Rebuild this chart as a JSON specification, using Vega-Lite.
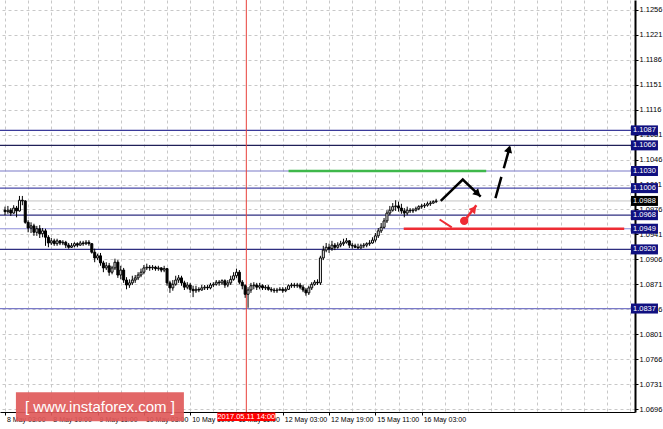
{
"$schema":"https://vega.github.io/schema/vega-lite/v6.json",
"width":635,"height":412,
"autosize":{"type":"none"},
"padding":{"left":0,"top":0,"right":28,"bottom":17},
"background":"white",
"config":{"view":{"stroke":null},"font":"Liberation Sans",
 "axis":{"title":null,"labelOverlap":false,"labelBound":false,"labelFlush":false,"grid":true,"gridColor":"#c8c8c8","gridDash":[3,3],"gridWidth":1,
  "labelFont":"Liberation Sans","labelColor":"black","tickColor":"black","domainColor":"black","tickSize":3,"tickCount":100},
 "axisX":{"labelFontSize":7,"domainWidth":1,"labelPadding":0},
 "axisY":{"labelFontSize":7.5,"domainWidth":2,"labelPadding":1}},
"datasets":{
"candles":[
{"i":0,"o":1.0975,"h":1.098,"l":1.0968,"c":1.0973},
{"i":1,"o":1.0973,"h":1.0981,"l":1.097,"c":1.0975},
{"i":2,"o":1.0975,"h":1.0978,"l":1.0967,"c":1.0971},
{"i":3,"o":1.0971,"h":1.0982,"l":1.097,"c":1.0978},
{"i":4,"o":1.0978,"h":1.0981,"l":1.0965,"c":1.0974},
{"i":5,"o":1.0974,"h":1.0995,"l":1.0973,"c":1.0989},
{"i":6,"o":1.0989,"h":1.0995,"l":1.0982,"c":1.0988},
{"i":7,"o":1.0988,"h":1.0989,"l":1.0956,"c":1.0958},
{"i":8,"o":1.0958,"h":1.0961,"l":1.0944,"c":1.095},
{"i":9,"o":1.095,"h":1.0958,"l":1.0943,"c":1.0953},
{"i":10,"o":1.0953,"h":1.0956,"l":1.0939,"c":1.0944},
{"i":11,"o":1.0944,"h":1.0953,"l":1.0939,"c":1.0949},
{"i":12,"o":1.0949,"h":1.0954,"l":1.0936,"c":1.0942},
{"i":13,"o":1.0942,"h":1.095,"l":1.0937,"c":1.0946},
{"i":14,"o":1.0946,"h":1.0949,"l":1.0925,"c":1.0937},
{"i":15,"o":1.0937,"h":1.094,"l":1.0923,"c":1.0929},
{"i":16,"o":1.0929,"h":1.0936,"l":1.0926,"c":1.0932},
{"i":17,"o":1.0932,"h":1.0935,"l":1.0925,"c":1.0928},
{"i":18,"o":1.0928,"h":1.0935,"l":1.0925,"c":1.0932},
{"i":19,"o":1.0932,"h":1.0933,"l":1.0926,"c":1.0929},
{"i":20,"o":1.0929,"h":1.0933,"l":1.0926,"c":1.093},
{"i":21,"o":1.093,"h":1.0932,"l":1.0922,"c":1.0926},
{"i":22,"o":1.0926,"h":1.0929,"l":1.0921,"c":1.0923},
{"i":23,"o":1.0923,"h":1.0929,"l":1.0922,"c":1.0925},
{"i":24,"o":1.0925,"h":1.093,"l":1.0923,"c":1.0928},
{"i":25,"o":1.0928,"h":1.093,"l":1.0923,"c":1.0926},
{"i":26,"o":1.0926,"h":1.0932,"l":1.0925,"c":1.0929},
{"i":27,"o":1.0929,"h":1.0932,"l":1.0925,"c":1.0928},
{"i":28,"o":1.0928,"h":1.0933,"l":1.0926,"c":1.093},
{"i":29,"o":1.093,"h":1.0933,"l":1.0925,"c":1.0928},
{"i":30,"o":1.0928,"h":1.0929,"l":1.0914,"c":1.0916},
{"i":31,"o":1.0916,"h":1.0921,"l":1.0902,"c":1.0908},
{"i":32,"o":1.0908,"h":1.0914,"l":1.0905,"c":1.0911},
{"i":33,"o":1.0911,"h":1.0915,"l":1.0897,"c":1.0901},
{"i":34,"o":1.0901,"h":1.0904,"l":1.0888,"c":1.0894},
{"i":35,"o":1.0894,"h":1.0902,"l":1.0891,"c":1.0897},
{"i":36,"o":1.0897,"h":1.0901,"l":1.0883,"c":1.0888},
{"i":37,"o":1.0888,"h":1.0897,"l":1.0885,"c":1.0894},
{"i":38,"o":1.0894,"h":1.0907,"l":1.0891,"c":1.0902},
{"i":39,"o":1.0902,"h":1.0905,"l":1.088,"c":1.0884},
{"i":40,"o":1.0884,"h":1.0897,"l":1.0878,"c":1.0891},
{"i":41,"o":1.0891,"h":1.0894,"l":1.0873,"c":1.0877},
{"i":42,"o":1.0877,"h":1.0881,"l":1.0864,"c":1.087},
{"i":43,"o":1.087,"h":1.0878,"l":1.0866,"c":1.0873},
{"i":44,"o":1.0873,"h":1.0883,"l":1.087,"c":1.0877},
{"i":45,"o":1.0877,"h":1.0884,"l":1.0873,"c":1.088},
{"i":46,"o":1.088,"h":1.0888,"l":1.0877,"c":1.0884},
{"i":47,"o":1.0884,"h":1.0893,"l":1.0881,"c":1.0888},
{"i":48,"o":1.0888,"h":1.0898,"l":1.0885,"c":1.0894},
{"i":49,"o":1.0894,"h":1.09,"l":1.0891,"c":1.0895},
{"i":50,"o":1.0895,"h":1.0898,"l":1.089,"c":1.0894},
{"i":51,"o":1.0894,"h":1.0898,"l":1.0891,"c":1.0895},
{"i":52,"o":1.0895,"h":1.0897,"l":1.089,"c":1.0893},
{"i":53,"o":1.0893,"h":1.0897,"l":1.089,"c":1.0894},
{"i":54,"o":1.0894,"h":1.0895,"l":1.0888,"c":1.0891},
{"i":55,"o":1.0891,"h":1.0897,"l":1.0888,"c":1.0893},
{"i":56,"o":1.0893,"h":1.0894,"l":1.0869,"c":1.0873},
{"i":57,"o":1.0873,"h":1.0876,"l":1.0859,"c":1.0866},
{"i":58,"o":1.0866,"h":1.0877,"l":1.0862,"c":1.0871},
{"i":59,"o":1.0871,"h":1.0883,"l":1.0869,"c":1.0877},
{"i":60,"o":1.0877,"h":1.0884,"l":1.0873,"c":1.088},
{"i":61,"o":1.088,"h":1.0883,"l":1.0869,"c":1.0873},
{"i":62,"o":1.0873,"h":1.0876,"l":1.0863,"c":1.0867},
{"i":63,"o":1.0867,"h":1.0874,"l":1.0864,"c":1.087},
{"i":64,"o":1.087,"h":1.0873,"l":1.0859,"c":1.0864},
{"i":65,"o":1.0864,"h":1.0869,"l":1.0853,"c":1.0862},
{"i":66,"o":1.0862,"h":1.0869,"l":1.0859,"c":1.0864},
{"i":67,"o":1.0864,"h":1.0867,"l":1.086,"c":1.0863},
{"i":68,"o":1.0863,"h":1.087,"l":1.0862,"c":1.0866},
{"i":69,"o":1.0866,"h":1.087,"l":1.0863,"c":1.0867},
{"i":70,"o":1.0867,"h":1.087,"l":1.0863,"c":1.0866},
{"i":71,"o":1.0866,"h":1.0873,"l":1.0864,"c":1.087},
{"i":72,"o":1.087,"h":1.0874,"l":1.0867,"c":1.0871},
{"i":73,"o":1.0871,"h":1.0877,"l":1.0869,"c":1.0874},
{"i":74,"o":1.0874,"h":1.0877,"l":1.0869,"c":1.0873},
{"i":75,"o":1.0873,"h":1.0878,"l":1.087,"c":1.0876},
{"i":76,"o":1.0876,"h":1.0878,"l":1.0866,"c":1.087},
{"i":77,"o":1.087,"h":1.0877,"l":1.0867,"c":1.0873},
{"i":78,"o":1.0873,"h":1.0883,"l":1.087,"c":1.0878},
{"i":79,"o":1.0878,"h":1.0888,"l":1.0876,"c":1.0883},
{"i":80,"o":1.0883,"h":1.0893,"l":1.088,"c":1.0888},
{"i":81,"o":1.0888,"h":1.0891,"l":1.0871,"c":1.0874},
{"i":82,"o":1.0874,"h":1.0877,"l":1.0864,"c":1.0869},
{"i":83,"o":1.0869,"h":1.0871,"l":1.0852,"c":1.0857},
{"i":84,"o":1.0857,"h":1.0867,"l":1.0838,"c":1.0863},
{"i":85,"o":1.0863,"h":1.0873,"l":1.0859,"c":1.0869},
{"i":86,"o":1.0869,"h":1.0874,"l":1.0864,"c":1.087},
{"i":87,"o":1.087,"h":1.0873,"l":1.0863,"c":1.0867},
{"i":88,"o":1.0867,"h":1.0873,"l":1.0864,"c":1.0869},
{"i":89,"o":1.0869,"h":1.0871,"l":1.0863,"c":1.0866},
{"i":90,"o":1.0866,"h":1.087,"l":1.0863,"c":1.0867},
{"i":91,"o":1.0867,"h":1.087,"l":1.0862,"c":1.0864},
{"i":92,"o":1.0864,"h":1.0867,"l":1.086,"c":1.0863},
{"i":93,"o":1.0863,"h":1.0866,"l":1.0859,"c":1.0862},
{"i":94,"o":1.0862,"h":1.0866,"l":1.0859,"c":1.0863},
{"i":95,"o":1.0863,"h":1.0867,"l":1.0862,"c":1.0864},
{"i":96,"o":1.0864,"h":1.0867,"l":1.0859,"c":1.0862},
{"i":97,"o":1.0862,"h":1.0867,"l":1.086,"c":1.0864},
{"i":98,"o":1.0864,"h":1.0871,"l":1.0863,"c":1.0869},
{"i":99,"o":1.0869,"h":1.0873,"l":1.0866,"c":1.087},
{"i":100,"o":1.087,"h":1.0873,"l":1.0866,"c":1.0869},
{"i":101,"o":1.0869,"h":1.0873,"l":1.0866,"c":1.087},
{"i":102,"o":1.087,"h":1.0873,"l":1.0864,"c":1.0867},
{"i":103,"o":1.0867,"h":1.087,"l":1.086,"c":1.0863},
{"i":104,"o":1.0863,"h":1.0866,"l":1.0855,"c":1.0859},
{"i":105,"o":1.0859,"h":1.0869,"l":1.0856,"c":1.0866},
{"i":106,"o":1.0866,"h":1.0874,"l":1.0863,"c":1.0871},
{"i":107,"o":1.0871,"h":1.0877,"l":1.0869,"c":1.0874},
{"i":108,"o":1.0874,"h":1.0878,"l":1.087,"c":1.0873},
{"i":109,"o":1.0873,"h":1.0911,"l":1.087,"c":1.0908},
{"i":110,"o":1.0908,"h":1.0925,"l":1.0905,"c":1.0919},
{"i":111,"o":1.0919,"h":1.0929,"l":1.0916,"c":1.0923},
{"i":112,"o":1.0923,"h":1.0928,"l":1.0915,"c":1.0921},
{"i":113,"o":1.0921,"h":1.0932,"l":1.0918,"c":1.0926},
{"i":114,"o":1.0926,"h":1.0929,"l":1.0919,"c":1.0923},
{"i":115,"o":1.0923,"h":1.093,"l":1.0921,"c":1.0926},
{"i":116,"o":1.0926,"h":1.0932,"l":1.0923,"c":1.0928},
{"i":117,"o":1.0928,"h":1.0935,"l":1.0925,"c":1.093},
{"i":118,"o":1.093,"h":1.0936,"l":1.0928,"c":1.0932},
{"i":119,"o":1.0932,"h":1.0933,"l":1.0922,"c":1.0926},
{"i":120,"o":1.0926,"h":1.0929,"l":1.0921,"c":1.0925},
{"i":121,"o":1.0925,"h":1.0928,"l":1.0922,"c":1.0923},
{"i":122,"o":1.0923,"h":1.0928,"l":1.0921,"c":1.0922},
{"i":123,"o":1.0922,"h":1.0928,"l":1.0921,"c":1.0925},
{"i":124,"o":1.0925,"h":1.0929,"l":1.0922,"c":1.0926},
{"i":125,"o":1.0926,"h":1.093,"l":1.0923,"c":1.0928},
{"i":126,"o":1.0928,"h":1.0933,"l":1.0925,"c":1.0929},
{"i":127,"o":1.0929,"h":1.0937,"l":1.0928,"c":1.0933},
{"i":128,"o":1.0933,"h":1.0943,"l":1.093,"c":1.0939},
{"i":129,"o":1.0939,"h":1.095,"l":1.0936,"c":1.0946},
{"i":130,"o":1.0946,"h":1.0957,"l":1.0943,"c":1.0951},
{"i":131,"o":1.0951,"h":1.0964,"l":1.0949,"c":1.096},
{"i":132,"o":1.096,"h":1.0975,"l":1.0957,"c":1.0971},
{"i":133,"o":1.0971,"h":1.0981,"l":1.0968,"c":1.0975},
{"i":134,"o":1.0975,"h":1.0985,"l":1.0973,"c":1.098},
{"i":135,"o":1.098,"h":1.0989,"l":1.0974,"c":1.0981},
{"i":136,"o":1.0981,"h":1.0987,"l":1.0973,"c":1.0978},
{"i":137,"o":1.0978,"h":1.0984,"l":1.097,"c":1.0974},
{"i":138,"o":1.0974,"h":1.0978,"l":1.0965,"c":1.0971},
{"i":139,"o":1.0971,"h":1.098,"l":1.0968,"c":1.0975},
{"i":140,"o":1.0975,"h":1.0978,"l":1.0971,"c":1.0974},
{"i":141,"o":1.0974,"h":1.0978,"l":1.0971,"c":1.0975},
{"i":142,"o":1.0975,"h":1.098,"l":1.0973,"c":1.0977},
{"i":143,"o":1.0977,"h":1.0982,"l":1.0975,"c":1.098},
{"i":144,"o":1.098,"h":1.0984,"l":1.0977,"c":1.0981},
{"i":145,"o":1.0981,"h":1.0985,"l":1.0978,"c":1.0982},
{"i":146,"o":1.0982,"h":1.0987,"l":1.098,"c":1.0984},
{"i":147,"o":1.0984,"h":1.0988,"l":1.0981,"c":1.0985},
{"i":148,"o":1.0985,"h":1.0989,"l":1.0984,"c":1.0987},
{"i":149,"o":1.0987,"h":1.0991,"l":1.0985,"c":1.0988}
],
"levels":[{"price":1.1087},{"price":1.1066},{"price":1.103},{"price":1.1006},{"price":1.0968},{"price":1.0949},{"price":1.092},{"price":1.0837}],
"bid":[{"price":1.0988}],
"tags":[{"price":1.1087},{"price":1.1066},{"price":1.103},{"price":1.1006},{"price":1.0968},{"price":1.0949},{"price":1.092},{"price":1.0837},{"price":1.0988}],
"green":[{"x":98,"x2":166.3,"price":1.103}],
"red":[{"x":137.8,"x2":214,"price":1.0949}],
"cursor":[{"x":83.4,"label":"2017.05.11 14:00"}],
"zig":[{"ord":1,"x":150.6,"y":1.0988},{"ord":2,"x":158.2,"y":1.1018},{"ord":3,"x":164.4,"y":1.0994}],
"dash":[{"ord":1,"x":169.5,"y":1.0992},{"ord":2,"x":174.6,"y":1.1066}],
"redtick":[{"ord":1,"x":150.2,"y":1.0962},{"ord":2,"x":154.4,"y":1.0951}],
"redarrow":[{"ord":1,"x":158.7,"y":1.096},{"ord":2,"x":162.9,"y":1.0982}],
"brand":[{"x":32.8,"y":1.0699,"label":"[ www.instaforex.com ]"}]
},
"layer":[
{"data":{"name":"candles"},"mark":{"type":"rule","color":"black","strokeWidth":1,"opacity":0},
 "encoding":{
  "x":{"field":"i","type":"quantitative","scale":{"domain":[0,216],"nice":false,"zero":false},
   "axis":{"orient":"bottom","title":null,"tickCount":100,"values":[0,8,16,24,32,40,48,56,64,72,80,88,96,104,112,120,128,136,144,152,160,168,176,184,192,200,208,216],
    "labelExpr":"datum.value % 16 == 0 && datum.value <= 144 ? ['8 May 03:00','8 May 19:00','9 May 11:00','10 May 03:00','10 May 19:00','11 May 11:00','12 May 03:00','12 May 19:00','15 May 11:00','16 May 03:00'][datum.value/16] : ''",
    "labelAlign":"left","labelBaseline":"top","labelFontSize":7,"labelPadding":0,"labelOffset":1.5,
    "tickOpacity":{"condition":{"test":"datum.value % 16 == 0 && datum.value <= 144","value":1},"value":0},
    "labelOverlap":false}},
  "y":{"field":"l","type":"quantitative","scale":{"domain":[1.06918,1.127],"nice":false,"zero":false},
   "axis":{"orient":"right","title":null,"tickCount":100,"values":[1.0696,1.0731,1.0766,1.0801,1.0836,1.0871,1.0906,1.0941,1.0976,1.1011,1.1046,1.1081,1.1116,1.1151,1.1186,1.1221,1.1256],
    "format":".4f","labelFontSize":7.5,"labelPadding":1,"labelBaseline":"middle","labelOverlap":false}}
 }},
{"data":{"name":"levels"},"mark":{"type":"rule","strokeWidth":1.2},
 "encoding":{
  "y":{"field":"price","type":"quantitative","scale":{"domain":[1.06918,1.127],"nice":false,"zero":false}},
  "color":{"field":"price","type":"nominal","legend":null,
   "scale":{"domain":[1.1087,1.1066,1.103,1.1006,1.0968,1.0949,1.092,1.0837],"range":["#3a3a9a","#202058","#7a7ac8","#4a4aa8","#2e2e80","#8c8cd8","#2e2e80","#7a7ac8"]}}
 }},
{"data":{"name":"bid"},"mark":{"type":"rule","color":"#c4c4c4","strokeWidth":1},
 "encoding":{"y":{"field":"price","type":"quantitative","scale":{"domain":[1.06918,1.127],"nice":false,"zero":false}}}},
{"data":{"name":"green"},"mark":{"type":"rule","color":"#3fb84b","strokeWidth":2.5},
 "encoding":{"x":{"field":"x","type":"quantitative","scale":{"domain":[0,216],"nice":false,"zero":false}},"x2":{"field":"x2"},
  "y":{"field":"price","type":"quantitative","scale":{"domain":[1.06918,1.127],"nice":false,"zero":false}}}},
{"data":{"name":"red"},"mark":{"type":"rule","color":"#ee2c34","strokeWidth":2.5},
 "encoding":{"x":{"field":"x","type":"quantitative","scale":{"domain":[0,216],"nice":false,"zero":false}},"x2":{"field":"x2"},
  "y":{"field":"price","type":"quantitative","scale":{"domain":[1.06918,1.127],"nice":false,"zero":false}}}},
{"data":{"name":"cursor"},"mark":{"type":"rule","color":"#e8403a","strokeWidth":1},
 "encoding":{"x":{"field":"x","type":"quantitative","scale":{"domain":[0,216],"nice":false,"zero":false}}}},
{"data":{"name":"candles"},"mark":{"type":"rule","color":"black","strokeWidth":1},
 "encoding":{
  "x":{"field":"i","type":"quantitative","scale":{"domain":[0,216],"nice":false,"zero":false}},
  "y":{"field":"l","type":"quantitative","scale":{"domain":[1.06918,1.127],"nice":false,"zero":false}},
  "y2":{"field":"h"}}},
{"data":{"name":"candles"},"mark":{"type":"bar","width":2,"stroke":"black","strokeWidth":1},
 "encoding":{
  "x":{"field":"i","type":"quantitative","scale":{"domain":[0,216],"nice":false,"zero":false}},
  "y":{"field":"o","type":"quantitative","scale":{"domain":[1.06918,1.127],"nice":false,"zero":false}},
  "y2":{"field":"c"},
  "fill":{"condition":{"test":"datum.c >= datum.o","value":"white"},"value":"black"}}},
{"data":{"name":"zig"},"mark":{"type":"line","color":"black","strokeWidth":2.5},
 "encoding":{"x":{"field":"x","type":"quantitative","scale":{"domain":[0,216],"nice":false,"zero":false}},
  "y":{"field":"y","type":"quantitative","scale":{"domain":[1.06918,1.127],"nice":false,"zero":false}},"order":{"field":"ord"}}},
{"data":{"name":"dash"},"mark":{"type":"line","color":"black","strokeWidth":2.5,"strokeDash":[22,9]},
 "encoding":{"x":{"field":"x","type":"quantitative","scale":{"domain":[0,216],"nice":false,"zero":false}},
  "y":{"field":"y","type":"quantitative","scale":{"domain":[1.06918,1.127],"nice":false,"zero":false}},"order":{"field":"ord"}}},
{"data":{"name":"redtick"},"mark":{"type":"line","color":"#ee2c34","strokeWidth":2},
 "encoding":{"x":{"field":"x","type":"quantitative","scale":{"domain":[0,216],"nice":false,"zero":false}},
  "y":{"field":"y","type":"quantitative","scale":{"domain":[1.06918,1.127],"nice":false,"zero":false}},"order":{"field":"ord"}}},
{"data":{"name":"redarrow"},"mark":{"type":"line","color":"#ee2c34","strokeWidth":2.5},
 "encoding":{"x":{"field":"x","type":"quantitative","scale":{"domain":[0,216],"nice":false,"zero":false}},
  "y":{"field":"y","type":"quantitative","scale":{"domain":[1.06918,1.127],"nice":false,"zero":false}},"order":{"field":"ord"}}},
{"data":{"values":[{"x":158.7,"y":1.096}]},"mark":{"type":"point","shape":"circle","filled":true,"color":"#ee2c34","size":70,"opacity":1},
 "encoding":{"x":{"field":"x","type":"quantitative","scale":{"domain":[0,216],"nice":false,"zero":false}},
  "y":{"field":"y","type":"quantitative","scale":{"domain":[1.06918,1.127],"nice":false,"zero":false}}}},
{"data":{"values":[{"x":163.4,"y":1.0998}]},"mark":{"type":"point","shape":"triangle-up","filled":true,"color":"black","size":70,"angle":134,"opacity":1},
 "encoding":{"x":{"field":"x","type":"quantitative","scale":{"domain":[0,216],"nice":false,"zero":false}},
  "y":{"field":"y","type":"quantitative","scale":{"domain":[1.06918,1.127],"nice":false,"zero":false}}}},
{"data":{"values":[{"x":174.2,"y":1.1061}]},"mark":{"type":"point","shape":"triangle-up","filled":true,"color":"black","size":70,"angle":16,"opacity":1},
 "encoding":{"x":{"field":"x","type":"quantitative","scale":{"domain":[0,216],"nice":false,"zero":false}},
  "y":{"field":"y","type":"quantitative","scale":{"domain":[1.06918,1.127],"nice":false,"zero":false}}}},
{"data":{"values":[{"x":162.1,"y":1.0977}]},"mark":{"type":"point","shape":"triangle-up","filled":true,"color":"#ee2c34","size":70,"angle":39,"opacity":1},
 "encoding":{"x":{"field":"x","type":"quantitative","scale":{"domain":[0,216],"nice":false,"zero":false}},
  "y":{"field":"y","type":"quantitative","scale":{"domain":[1.06918,1.127],"nice":false,"zero":false}}}},
{"data":{"name":"tags"},"mark":{"type":"tick","orient":"horizontal","size":27,"thickness":10,"opacity":1},
 "encoding":{"x":{"datum":221,"type":"quantitative","scale":{"domain":[0,216],"nice":false,"zero":false}},
  "y":{"field":"price","type":"quantitative","scale":{"domain":[1.06918,1.127],"nice":false,"zero":false}},
  "color":{"condition":{"test":"datum.price == 1.0988","value":"black"},"value":"#101080"}}},
{"data":{"name":"tags"},"mark":{"type":"text","color":"white","font":"Liberation Sans","fontSize":7.5,"baseline":"middle","align":"center"},
 "encoding":{"x":{"datum":221,"type":"quantitative","scale":{"domain":[0,216],"nice":false,"zero":false}},
  "y":{"field":"price","type":"quantitative","scale":{"domain":[1.06918,1.127],"nice":false,"zero":false}},
  "text":{"field":"price","type":"quantitative","format":".4f"}}},
{"data":{"name":"cursor"},"mark":{"type":"tick","orient":"horizontal","size":58,"thickness":8.5,"color":"#ff0000","opacity":1},
 "encoding":{"x":{"field":"x","type":"quantitative","scale":{"domain":[0,216],"nice":false,"zero":false}},
  "y":{"datum":1.06851,"type":"quantitative","scale":{"domain":[1.06918,1.127],"nice":false,"zero":false}}}},
{"data":{"name":"cursor"},"mark":{"type":"text","color":"white","font":"Liberation Sans","fontSize":7.5,"baseline":"middle","align":"center"},
 "encoding":{"x":{"field":"x","type":"quantitative","scale":{"domain":[0,216],"nice":false,"zero":false}},
  "y":{"datum":1.06851,"type":"quantitative","scale":{"domain":[1.06918,1.127],"nice":false,"zero":false}},
  "text":{"field":"label"}}},
{"data":{"name":"brand"},"mark":{"type":"tick","orient":"horizontal","size":168,"thickness":29,"color":"#e05a5a","opacity":0.92},
 "encoding":{"x":{"field":"x","type":"quantitative","scale":{"domain":[0,216],"nice":false,"zero":false}},
  "y":{"field":"y","type":"quantitative","scale":{"domain":[1.06918,1.127],"nice":false,"zero":false}}}},
{"data":{"name":"brand"},"mark":{"type":"text","color":"white","font":"Liberation Sans","fontSize":15,"baseline":"middle","align":"center"},
 "encoding":{"x":{"field":"x","type":"quantitative","scale":{"domain":[0,216],"nice":false,"zero":false}},
  "y":{"field":"y","type":"quantitative","scale":{"domain":[1.06918,1.127],"nice":false,"zero":false}},
  "text":{"field":"label"}}}
]
}
